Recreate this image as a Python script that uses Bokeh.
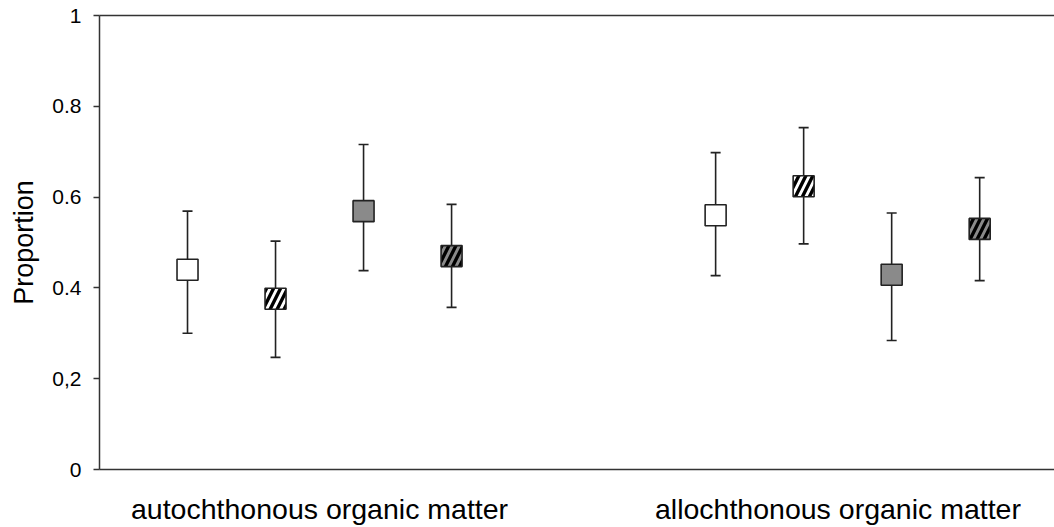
from bokeh.plotting import figure
from bokeh.models import Range1d, FixedTicker, LinearAxis, ColumnDataSource
from bokeh.embed import file_html
from bokeh.resources import INLINE

# Data: proportion estimates with error bars for two organic matter sources
groups = ["autochthonous organic matter", "allochthonous organic matter"]
x_pos = [1, 2, 3, 4, 7, 8, 9, 10]
means = [0.440, 0.376, 0.569, 0.470, 0.560, 0.624, 0.429, 0.530]
lower = [0.300, 0.247, 0.438, 0.357, 0.427, 0.497, 0.284, 0.416]
upper = [0.569, 0.503, 0.716, 0.584, 0.698, 0.753, 0.565, 0.643]
fills = ["white", "white", "#8a8a8a", "#8a8a8a", "white", "white", "#8a8a8a", "#8a8a8a"]
hatches = [" ", "/", " ", "/", " ", "/", " ", "/"]
label_pos = [2.5, 8.39]
y_ticks = [0, 0.2, 0.4, 0.6, 0.8, 1]
y_tick_labels = ["0", "0,2", "0.4", "0.6", "0.8", "1"]

FONT = "Liberation Sans"
AXIS_COLOR = "#333333"

src = ColumnDataSource(dict(x=x_pos, y=means, lo=lower, hi=upper, fill=fills, hatch=hatches))

p = figure(width=1054, height=527, output_backend="svg", toolbar_location=None,
           x_range=Range1d(0, 10.85), y_range=Range1d(0, 1))
p.min_border_left = 99
p.min_border_right = 0
p.min_border_top = 15
p.min_border_bottom = 55
p.outline_line_color = None
p.grid.visible = False
p.background_fill_color = "white"
p.border_fill_color = "white"

# error bars
p.segment(x0="x", y0="lo", x1="x", y1="hi", source=src, line_color="#222222", line_width=1.6)
p.scatter(x="x", y="lo", source=src, marker="dash", size=10, line_color="#222222", line_width=1.6)
p.scatter(x="x", y="hi", source=src, marker="dash", size=10, line_color="#222222", line_width=1.6)

# square markers, hatched for alternating series
p.rect(x="x", y="y", width=21, height=21, width_units="screen", height_units="screen",
       source=src, fill_color="fill", line_color="#222222", line_width=1.6,
       hatch_pattern="hatch", hatch_color="black", hatch_weight=3.4, hatch_scale=14)

# y axis
ya = p.yaxis[0]
ya.ticker = FixedTicker(ticks=y_ticks)
ya.major_label_overrides = {t: l for t, l in zip(y_ticks, y_tick_labels)}
ya.minor_tick_line_color = None
ya.major_tick_in = 0
ya.major_tick_out = 6
ya.major_tick_line_color = AXIS_COLOR
ya.major_tick_line_width = 1.5
ya.axis_line_color = AXIS_COLOR
ya.axis_line_width = 1.5
ya.major_label_text_font = FONT
ya.major_label_text_font_size = "21px"
ya.major_label_text_color = "black"
ya.major_label_standoff = 12
ya.axis_label = "Proportion"
ya.axis_label_text_font = FONT
ya.axis_label_text_font_size = "27px"
ya.axis_label_text_font_style = "normal"
ya.axis_label_text_color = "black"
ya.axis_label_standoff = 10

# x axis with group labels
xa = p.xaxis[0]
xa.ticker = FixedTicker(ticks=label_pos)
xa.major_label_overrides = {c: g for c, g in zip(label_pos, groups)}
xa.minor_tick_line_color = None
xa.major_tick_line_color = None
xa.axis_line_color = AXIS_COLOR
xa.axis_line_width = 1.5
xa.major_label_text_font = FONT
xa.major_label_text_font_size = "28.5px"
xa.major_label_text_color = "black"
xa.major_label_standoff = 17

# top frame line
top = LinearAxis(ticker=FixedTicker(ticks=[]), major_label_text_font_size="0px",
                 axis_line_color=AXIS_COLOR, axis_line_width=1.5,
                 major_tick_line_color=None, minor_tick_line_color=None)
p.add_layout(top, "above")

open("out.html", "w").write(file_html(p, INLINE))
